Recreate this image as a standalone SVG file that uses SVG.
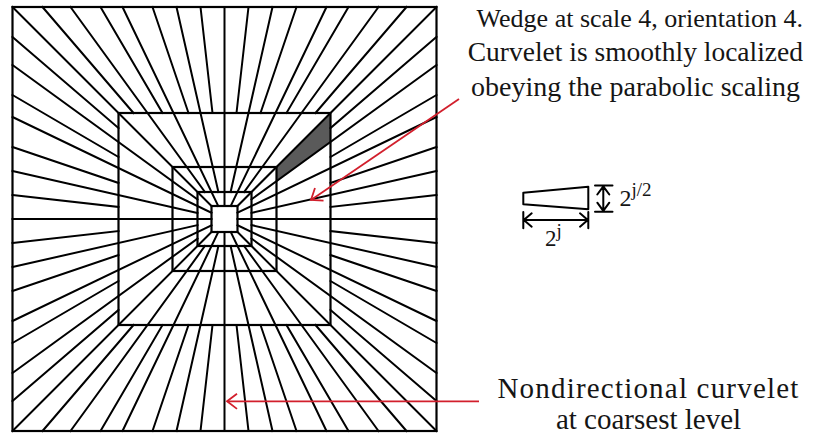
<svg xmlns="http://www.w3.org/2000/svg" width="813" height="437" viewBox="0 0 813 437">
<style>
.ln{stroke:#000;stroke-width:2;fill:none;stroke-linecap:square}
.sq{stroke:#000;stroke-width:2.2;fill:none}
.red{stroke:#d21f2c;stroke-width:1.8;fill:none}
.dim{stroke:#000;stroke-width:2;fill:none;stroke-linecap:round;stroke-linejoin:round}
.lbl{font-family:"Liberation Serif","Times New Roman",serif;fill:#151515}
.math{font-family:"Liberation Serif","Times New Roman",serif;fill:#151515}
</style>
<defs>
<marker id="vhead" viewBox="-14 -9 16 18" markerWidth="16" markerHeight="18" refX="0" refY="0" markerUnits="userSpaceOnUse" orient="auto">
<path d="M-10,-7.6 L0,0 L-10,7.6" stroke="#d21f2c" stroke-width="1.8" fill="none"/>
</marker>
</defs>
<rect width="813" height="437" fill="#fff"/>
<g id="tiling" transform="translate(224.5,219)">
<polygon id="wedge" points="106,-106 106,-77 52,-37.75 52,-52" fill="#5a5a5a"/>
<path class="ln" d="M0,-13 L0,-212 M0,13 L0,212 M-13,0 L-212,0 M13,0 L212,0
M13,-13 L212,-212 M-13,-13 L-212,-212 M13,13 L212,212 M-13,13 L-212,212
M6.25,-13 L102,-212 M-6.25,-13 L-102,-212 M6.25,13 L102,212 M-6.25,13 L-102,212
M-13,6.25 L-212,102 M-13,-6.25 L-212,-102 M13,6.25 L212,102 M13,-6.25 L212,-102
M6.1,-27 L48,-212 M-6.1,-27 L-48,-212 M6.1,27 L48,212 M-6.1,27 L-48,212
M-27,6.1 L-212,48 M-27,-6.1 L-212,-48 M27,6.1 L212,48 M27,-6.1 L212,-48
M19.6,-27 L154,-212 M-19.6,-27 L-154,-212 M19.6,27 L154,212 M-19.6,27 L-154,212
M-27,19.6 L-212,154 M-27,-19.6 L-212,-154 M27,19.6 L212,154 M27,-19.6 L212,-154
M12,-106 L24,-212 M-12,-106 L-24,-212 M12,106 L24,212 M-12,106 L-24,212
M-106,12 L-212,24 M-106,-12 L-212,-24 M106,12 L212,24 M106,-12 L212,-24
M36,-106 L72,-212 M-36,-106 L-72,-212 M36,106 L72,212 M-36,106 L-72,212
M-106,36 L-212,72 M-106,-36 L-212,-72 M106,36 L212,72 M106,-36 L212,-72
M62,-106 L124,-212 M-62,-106 L-124,-212 M62,106 L124,212 M-62,106 L-124,212
M-106,62 L-212,124 M-106,-62 L-212,-124 M106,62 L212,124 M106,-62 L212,-124
M91,-106 L182,-212 M-91,-106 L-182,-212 M91,106 L182,212 M-91,106 L-182,212
M-106,91 L-212,182 M-106,-91 L-212,-182 M106,91 L212,182 M106,-91 L212,-182"/>
<rect class="sq" x="-212" y="-212" width="424" height="424"/>
<rect class="sq" x="-106" y="-106" width="212" height="212"/>
<rect class="sq" x="-52" y="-52" width="104" height="104"/>
<rect class="sq" x="-27" y="-27" width="54" height="54"/>
<rect class="sq" x="-13" y="-13" width="26" height="26" fill="#fff"/>
</g>
<g id="wedge-label">
<text class="lbl" x="803" y="27" text-anchor="end" font-size="26">Wedge at scale 4, orientation 4.</text>
<text class="lbl" x="803" y="61" text-anchor="end" font-size="27.5">Curvelet is smoothly localized</text>
<text class="lbl" x="800" y="96" text-anchor="end" font-size="28">obeying the parabolic scaling</text>
</g>
<g id="coarse-label">
<text class="lbl" x="648.5" y="398" text-anchor="middle" font-size="29" letter-spacing="1.2">Nondirectional curvelet</text>
<text class="lbl" x="648.5" y="429" text-anchor="middle" font-size="29">at coarsest level</text>
</g>
<g id="scaling-icon">
<polygon class="dim" points="523.3,192.7 588.3,186.7 588.3,209.3 523.3,204.3"/>
<path class="dim" d="M523.3,212 L523.3,228.3 M588.3,212 L588.3,228.3 M523.3,220 L588.3,220 M531.7,213.3 L523.8,220 L531.7,226.7 M580,213.3 L587.8,220 L580,226.7"/>
<path class="dim" d="M595,185.5 L612.5,185.5 M595,211.7 L612.5,211.7 M603.3,185.5 L603.3,211.7 M597.3,194.5 L603.3,186.3 L609.3,194.5 M597.3,202.7 L603.3,210.9 L609.3,202.7"/>
<text class="math" x="619.5" y="206" font-size="24">2<tspan font-size="19" dy="-10">j/2</tspan></text>
<text class="math" x="545" y="246" font-size="23">2<tspan font-size="19" dy="-9">j</tspan></text>
</g>
<g id="connectors">
<line class="red" x1="459" y1="99" x2="311" y2="200" marker-end="url(#vhead)"/>
<line class="red" x1="479" y1="401.3" x2="227" y2="401.3" marker-end="url(#vhead)"/>
</g>
</svg>
